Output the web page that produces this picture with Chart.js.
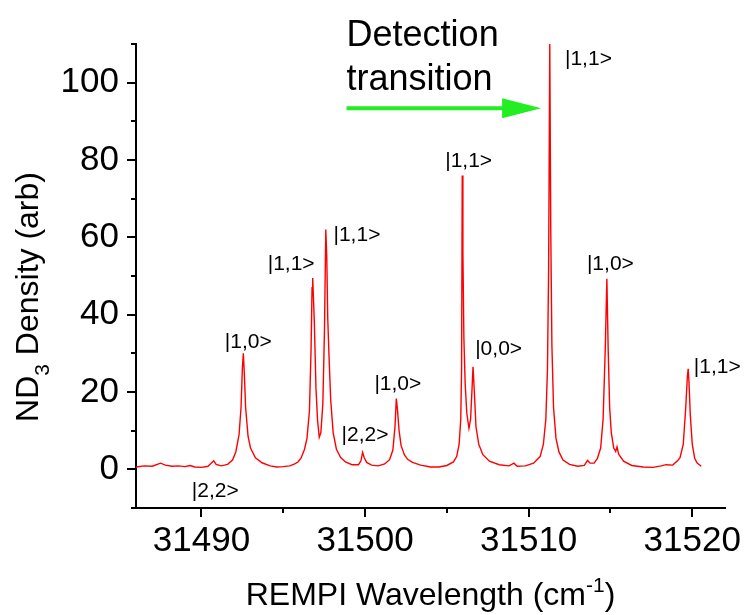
<!DOCTYPE html>
<html>
<head>
<meta charset="utf-8">
<title>ND3 REMPI spectrum</title>
<script src="https://cdn.jsdelivr.net/npm/chart.js@4.4.1/dist/chart.umd.min.js"></script>
<style>
  body { margin: 0; background: #fff; }
  canvas { display: block; }
</style>
</head>
<body>
<canvas class="js-graph" width="750" height="615"></canvas>
<script>
// spectrum (wavenumber in cm-1, density in arb)
const waveX = [
  31486.0, 31486.5, 31487.0, 31487.5, 31487.8, 31488.2, 31488.6, 31489.0, 31489.3, 31489.6,
  31490.0, 31490.4, 31490.75, 31490.9, 31491.2, 31491.6, 31491.9, 31492.1, 31492.3, 31492.42,
  31492.5, 31492.56, 31492.62, 31492.7, 31492.85, 31493.0, 31493.3, 31493.7, 31494.2, 31494.6,
  31495.0, 31495.4, 31495.7, 31495.9, 31496.1, 31496.3, 31496.45, 31496.6, 31496.7, 31496.76,
  31496.8, 31496.84, 31496.9, 31497.0, 31497.1, 31497.2, 31497.3, 31497.42, 31497.52, 31497.6,
  31497.66, 31497.72, 31497.8, 31497.9, 31498.05, 31498.25, 31498.5, 31498.8, 31499.2, 31499.6,
  31499.75, 31499.85, 31499.95, 31500.1, 31500.4, 31500.8, 31501.2, 31501.5, 31501.7, 31501.83,
  31501.91, 31501.98, 31502.08, 31502.2, 31502.4, 31502.6, 31502.9, 31503.4, 31504.0, 31504.5,
  31505.0, 31505.4, 31505.6, 31505.75, 31505.85, 31505.9, 31505.94, 31505.98, 31506.04, 31506.12,
  31506.22, 31506.35, 31506.45, 31506.53, 31506.6, 31506.68, 31506.78, 31506.95, 31507.2, 31507.6,
  31508.2, 31508.8, 31509.1, 31509.3, 31509.8, 31510.3, 31510.7, 31510.9, 31511.05, 31511.15,
  31511.22, 31511.29, 31511.35, 31511.42, 31511.52, 31511.67, 31511.85, 31512.1, 31512.5, 31513.0,
  31513.4, 31513.6, 31513.75, 31514.0, 31514.2, 31514.4, 31514.55, 31514.68, 31514.78, 31514.86,
  31514.95, 31515.05, 31515.2, 31515.32, 31515.4, 31515.5, 31515.8, 31516.3, 31517.0, 31517.6,
  31518.1, 31518.4, 31518.8, 31519.1, 31519.25, 31519.45, 31519.6, 31519.7, 31519.75, 31519.8,
  31519.88, 31520.0, 31520.15, 31520.3, 31520.55
];
const densityY = [
  0.6, 0.9, 0.8, 1.6, 1.1, 0.8, 0.9, 0.7, 1.0, 0.6,
  0.5, 0.8, 2.2, 1.3, 0.9, 1.3, 2.4, 4.5, 9.0, 16.0,
  26.0, 30.0, 25.0, 16.0, 8.5, 5.5, 3.0, 1.7, 0.9, 0.6,
  0.7, 0.9, 1.4, 1.9, 3.0, 5.2, 8.0, 15.0, 31.0, 47.0,
  49.5, 45.0, 38.0, 21.0, 12.5, 8.3, 9.5, 17.0, 36.0, 62.0,
  55.0, 39.0, 29.0, 18.0, 9.5, 5.2, 3.1, 1.9, 1.2, 1.2,
  2.2, 4.4, 3.0, 1.8, 1.1, 0.9, 1.4, 2.5, 5.0, 11.0,
  18.3, 15.5, 10.0, 6.2, 3.8, 2.6, 1.8, 1.1, 0.6, 0.6,
  1.0, 1.9, 3.3, 6.5, 13.0, 26.0, 76.0, 56.0, 34.0, 22.0,
  14.5, 10.6, 13.0, 20.0, 26.5, 20.0, 11.0, 6.5, 3.8, 2.1,
  1.2, 0.9, 1.6, 0.8, 0.9, 1.6, 3.3, 6.5, 13.0, 26.0,
  52.0, 110.0, 62.0, 32.0, 16.0, 8.0, 4.5, 2.4, 1.3, 0.8,
  1.0, 2.3, 1.6, 1.6, 2.8, 5.5, 13.0, 31.0, 49.3, 31.0,
  16.0, 9.5, 5.5, 4.6, 5.8, 3.9, 2.1, 1.0, 0.6, 0.5,
  0.9, 1.2, 1.1, 2.2, 3.0, 6.5, 16.0, 24.0, 26.0, 22.5,
  14.0, 6.5, 2.8, 1.6, 0.8
];

// axis ticks
const xMajor = [31490, 31500, 31510, 31520];
const xMinor = [31495, 31505, 31515];
const yMajor = [0, 20, 40, 60, 80, 100];
const yMinor = [-10, 10, 30, 50, 70, 90, 110];

// state labels: text, left x, baseline y (data units)
const stateText = ['|1,0>', '|1,1>', '|1,1>', '|2,2>', '|1,0>', '|1,1>', '|0,0>', '|1,1>', '|1,0>', '|1,1>', '|2,2>'];
const stateX = [31491.43, 31494.05, 31498.07, 31498.56, 31500.57, 31504.9, 31506.73, 31512.22, 31513.56, 31520.09, 31489.41];
const stateY = [31.3, 51.5, 59.0, 7.2, 20.4, 78.1, 29.5, 104.5, 51.5, 24.8, -7.2];

// arrow to the detection transition
const arrowFrom = [31498.87, 93.4];
const arrowTo = [31510.76, 93.4];
const noteLines = ['Detection', 'transition'];
const noteX = 31498.87;
const noteY = [109.6, 98.0];

const FONT = "'Liberation Sans', Arial, sans-serif";

const points = waveX.map((x, i) => ({ x: x, y: densityY[i] }));

const overlay = {
  id: 'overlay',
  afterDraw(chart) {
    const ctx = chart.ctx;
    const xs = chart.scales.x;
    const ys = chart.scales.y;
    const area = chart.chartArea;
    ctx.save();

    // minor ticks
    ctx.strokeStyle = '#000';
    ctx.lineWidth = 2;
    ctx.beginPath();
    for (const v of yMinor) {
      const py = Math.round(ys.getPixelForValue(v));
      ctx.moveTo(area.left - 5, py);
      ctx.lineTo(area.left, py);
    }
    for (const v of xMinor) {
      const px = Math.round(xs.getPixelForValue(v));
      ctx.moveTo(px, area.bottom);
      ctx.lineTo(px, area.bottom + 5);
    }
    ctx.stroke();

    // state labels
    ctx.fillStyle = '#000';
    ctx.font = '21px ' + FONT;
    ctx.textAlign = 'left';
    ctx.textBaseline = 'alphabetic';
    stateText.forEach((t, i) => {
      ctx.fillText(t, xs.getPixelForValue(stateX[i]), ys.getPixelForValue(stateY[i]));
    });

    // detection note
    ctx.font = '36px ' + FONT;
    noteLines.forEach((t, i) => {
      ctx.fillText(t, xs.getPixelForValue(noteX), ys.getPixelForValue(noteY[i]));
    });

    // green arrow
    const x0 = xs.getPixelForValue(arrowFrom[0]);
    const y0 = ys.getPixelForValue(arrowFrom[1]);
    const x1 = xs.getPixelForValue(arrowTo[0]);
    const headLen = 39;
    ctx.strokeStyle = '#22ee22';
    ctx.fillStyle = '#22ee22';
    ctx.lineWidth = 4;
    ctx.beginPath();
    ctx.moveTo(x0, y0);
    ctx.lineTo(x1 - headLen + 2, y0);
    ctx.stroke();
    ctx.beginPath();
    ctx.moveTo(x1, y0);
    ctx.lineTo(x1 - headLen, y0 - 10);
    ctx.lineTo(x1 - headLen, y0 + 10);
    ctx.closePath();
    ctx.fill();

    // axis titles (with sub / superscript)
    ctx.fillStyle = '#000';
    const big = '32px ' + FONT;
    const small = '21px ' + FONT;

    // x title
    ctx.font = big;
    const a1 = 'REMPI Wavelength (cm';
    const a3 = ')';
    const w1 = ctx.measureText(a1).width;
    const w3 = ctx.measureText(a3).width;
    ctx.font = small;
    const a2 = '-1';
    const w2 = ctx.measureText(a2).width;
    let sx = (area.left + area.right) / 2 - (w1 + w2 + w3) / 2;
    const by = 605;
    ctx.font = big;
    ctx.fillText(a1, sx, by);
    ctx.font = small;
    ctx.fillText(a2, sx + w1, by - 13);
    ctx.font = big;
    ctx.fillText(a3, sx + w1 + w2, by);

    // y title
    ctx.translate(38, (area.top + area.bottom) / 2 + 21);
    ctx.rotate(-Math.PI / 2);
    ctx.font = big;
    const b1 = 'ND';
    const b3 = ' Density (arb)';
    const v1 = ctx.measureText(b1).width;
    const v3 = ctx.measureText(b3).width;
    ctx.font = small;
    const b2 = '3';
    const v2 = ctx.measureText(b2).width;
    sx = -(v1 + v2 + v3) / 2;
    ctx.font = big;
    ctx.fillText(b1, sx, 0);
    ctx.font = small;
    ctx.fillText(b2, sx + v1, 11);
    ctx.font = big;
    ctx.fillText(b3, sx + v1 + v2, 0);

    ctx.restore();
  }
};

const config = {
  type: 'line',
  data: {
    datasets: [{
      data: points,
      borderColor: '#ff0000',
      borderWidth: 1.4,
      pointRadius: 0,
      tension: 0,
      fill: false
    }]
  },
  options: {
    responsive: false,
    animation: false,
    devicePixelRatio: 1,
    layout: { padding: { top: 44, right: 25, left: 0, bottom: 0 } },
    plugins: {
      legend: { display: false },
      tooltip: { enabled: false }
    },
    scales: {
      x: {
        type: 'linear',
        min: 31486,
        max: 31522,
        afterFit: (s) => { s.height = 107; },
        afterBuildTicks: (s) => { s.ticks = xMajor.map(v => ({ value: v })); },
        grid: { drawOnChartArea: false, drawTicks: true, tickLength: 9, color: '#000', lineWidth: 2 },
        border: { display: true, color: '#000', width: 2 },
        ticks: {
          color: '#000',
          padding: 3,
          maxRotation: 0,
          font: { family: FONT, size: 35 },
          callback: (v) => String(v)
        }
      },
      y: {
        min: -10,
        max: 110,
        afterFit: (s) => { s.width = 136; },
        afterBuildTicks: (s) => { s.ticks = yMajor.map(v => ({ value: v })); },
        grid: { drawOnChartArea: false, drawTicks: true, tickLength: 9, color: '#000', lineWidth: 2 },
        border: { display: true, color: '#000', width: 2 },
        ticks: {
          color: '#000',
          padding: 8,
          font: { family: FONT, size: 35 },
          callback: (v) => String(v)
        }
      }
    }
  },
  plugins: [overlay]
};

document.addEventListener('DOMContentLoaded', function() {
  const graph = document.querySelector('.js-graph').getContext('2d');
  new Chart(graph, config);
});
</script>
</body>
</html>
